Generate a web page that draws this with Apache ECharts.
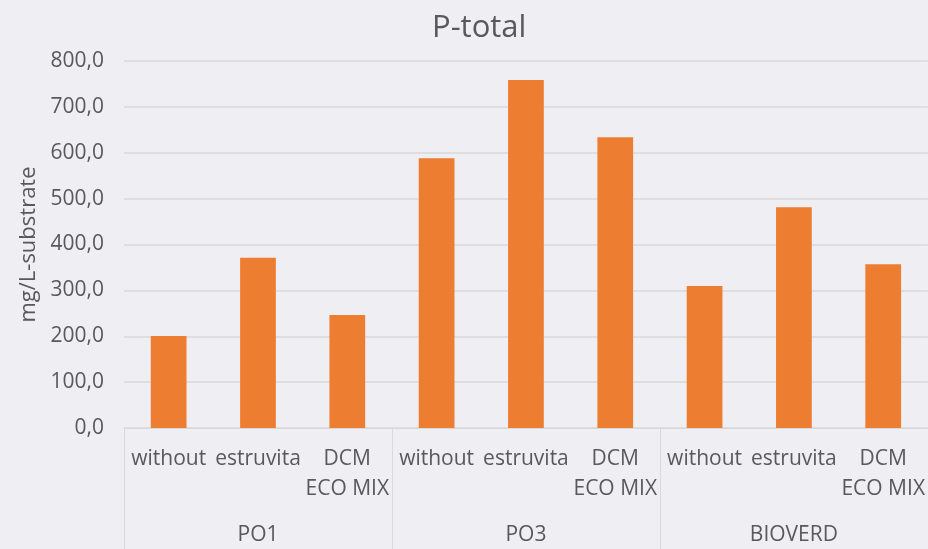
<!DOCTYPE html>
<html>
<head>
<meta charset="utf-8">
<script src="https://cdn.jsdelivr.net/npm/echarts@6/dist/echarts.min.js"></script>
<style>
  html, body { margin: 0; padding: 0; }
  #chartmain { width: 928px; height: 549px; }
</style>
</head>
<body>
<div id="chartmain"></div>
<script>
var treatments = ['without', 'estruvita', 'DCM\nECO MIX'];
var groups = ['PO1', 'PO3', 'BIOVERD'];
var po1 = [200.4, 371.0, 246.5];
var po3 = [588.0, 758.5, 634.0];
var bioverd = [309.5, 481.0, 357.0];
var yTicks = [0, 800, 100];

var categories = [];
var values = [];
[po1, po3, bioverd].forEach(function (arr) {
    arr.forEach(function (v, i) {
        categories.push(treatments[i]);
        values.push(v);
    });
});

var font = 'Open Sans';
var grey = '#595959';

option = {
    backgroundColor: '#efeef2',
    title: {
        text: 'P-total',
        left: 427,
        top: 8,
        textStyle: { fontFamily: font, fontSize: 31, fontWeight: 'normal', color: grey }
    },
    grid: { left: 124, right: 0, top: 61, bottom: 121 },
    xAxis: [
        {
            type: 'category',
            data: categories,
            axisLine: { lineStyle: { color: '#d9d9d9' } },
            axisTick: { show: false },
            axisLabel: {
                interval: 0,
                margin: 16,
                fontFamily: font,
                fontSize: 21,
                lineHeight: 30,
                color: grey
            }
        },
        {
            type: 'category',
            position: 'bottom',
            data: groups,
            axisLine: { show: false },
            axisTick: { show: true, length: 121, lineStyle: { color: '#d9d9d9' } },
            axisLabel: {
                margin: 97,
                fontFamily: font,
                fontSize: 21,
                color: grey
            }
        }
    ],
    yAxis: {
        type: 'value',
        min: yTicks[0],
        max: yTicks[1],
        interval: yTicks[2],
        name: 'mg/L-substrate',
        nameLocation: 'middle',
        nameGap: 82,
        nameTextStyle: { fontFamily: font, fontSize: 22, color: grey },
        axisLine: { show: false },
        axisTick: { show: false },
        splitLine: { lineStyle: { color: '#d9d9d9', width: 1.5 } },
        axisLabel: {
            margin: 20,
            fontFamily: font,
            fontSize: 21,
            color: grey,
            formatter: function (v) { return v.toFixed(1).replace('.', ','); }
        }
    },
    series: [
        {
            type: 'bar',
            xAxisIndex: 0,
            data: values,
            barWidth: '40%',
            itemStyle: { color: '#ED7D31' }
        }
    ]
};

var myChart = echarts.init(document.getElementById('chartmain'));
myChart.setOption(option);
</script>
</body>
</html>
